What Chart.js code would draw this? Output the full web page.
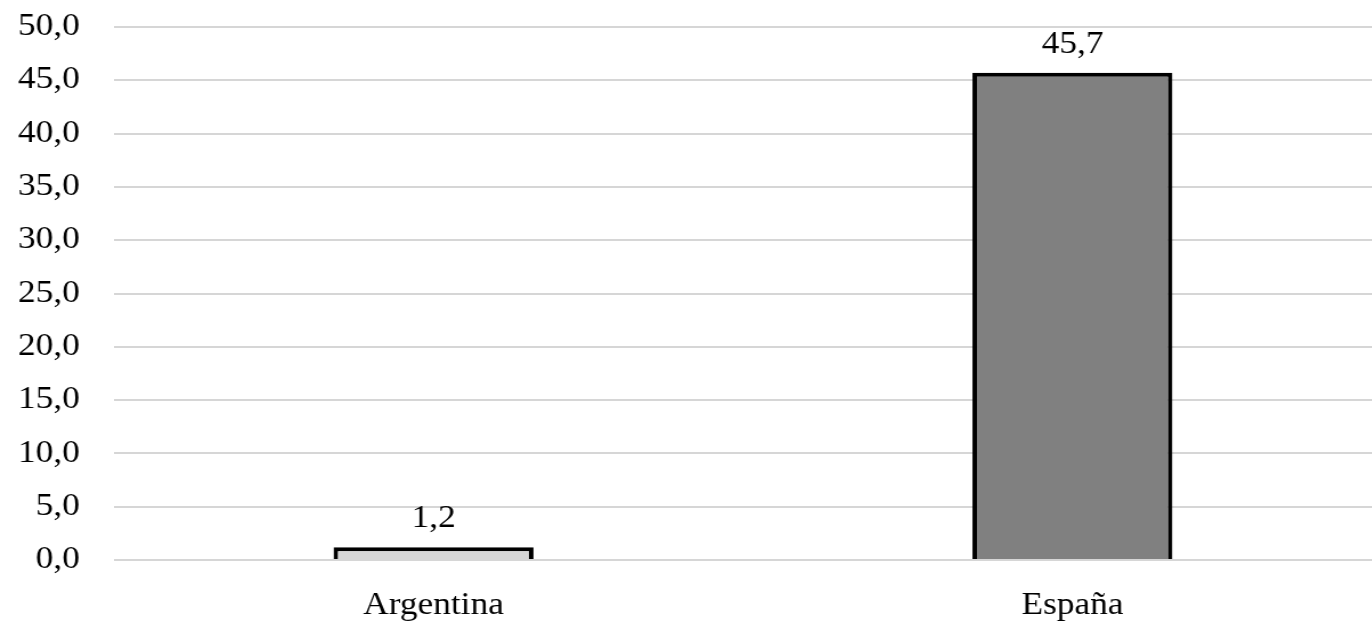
<!DOCTYPE html>
<html>
<head>
<meta charset="utf-8">
<script src="https://cdn.jsdelivr.net/npm/chart.js@4"></script>
<style>
html,body{margin:0;padding:0;background:#fff;overflow:hidden;width:1372px;height:623px;}
#wrap{width:1221px;height:623px;transform:scaleX(1.14);transform-origin:0 0;}
</style>
</head>
<body>
<div id="wrap"><canvas id="c" width="1221" height="623"></canvas></div>
<script>
const categories = ["Argentina", "España"];
const values = [1.2, 45.7];
const barColors = ["#d6d6d6", "#808080"];
const yTicks = [0, 5, 10, 15, 20, 25, 30, 35, 40, 45, 50];

const fmt = v => v.toFixed(1).replace('.', ',');
const FONT = "'Liberation Serif', 'Times New Roman', serif";

const labelPlugin = {
  id: 'valueLabels',
  afterDatasetsDraw(chart) {
    const ctx = chart.ctx;
    const meta = chart.getDatasetMeta(0);
    ctx.save();
    ctx.font = "31px " + FONT;
    ctx.fillStyle = "#000";
    ctx.textAlign = "center";
    ctx.textBaseline = "middle";
    meta.data.forEach((el, i) => {
      ctx.fillText(fmt(values[i]), el.x, el.y - 28);
    });
    ctx.restore();
  }
};

new Chart(document.getElementById('c'), {
  type: 'bar',
  data: {
    labels: categories,
    datasets: [{
      data: values,
      backgroundColor: barColors,
      borderColor: "#000",
      borderWidth: 4,
      borderSkipped: 'start',
      barPercentage: 0.313,
      categoryPercentage: 1
    }]
  },
  options: {
    responsive: false,
    devicePixelRatio: 1,
    animation: false,
    layout: { padding: { top: 27, right: 0, left: 0, bottom: 0 } },
    plugins: { legend: { display: false }, tooltip: { enabled: false } },
    scales: {
      x: {
        grid: { display: false, drawTicks: false },
        border: { display: false },
        ticks: { color: "#000", font: { family: FONT, size: 31 }, padding: 27 },
        afterFit(s) { s.height = 63; s.paddingLeft = 0; s.paddingRight = 0; }
      },
      y: {
        min: 0, max: 50,
        afterBuildTicks(s) { s.ticks = yTicks.map(v => ({ value: v })); },
        grid: { color: "#d6d6d6", lineWidth: 2, drawTicks: false },
        border: { display: false },
        ticks: { color: "#000", font: { family: FONT, size: 31 }, padding: 30, callback: v => fmt(v) },
        afterFit(s) { s.width = 100; s.paddingTop = 0; s.paddingBottom = 0; }
      }
    }
  },
  plugins: [labelPlugin]
});
</script>
</body>
</html>
